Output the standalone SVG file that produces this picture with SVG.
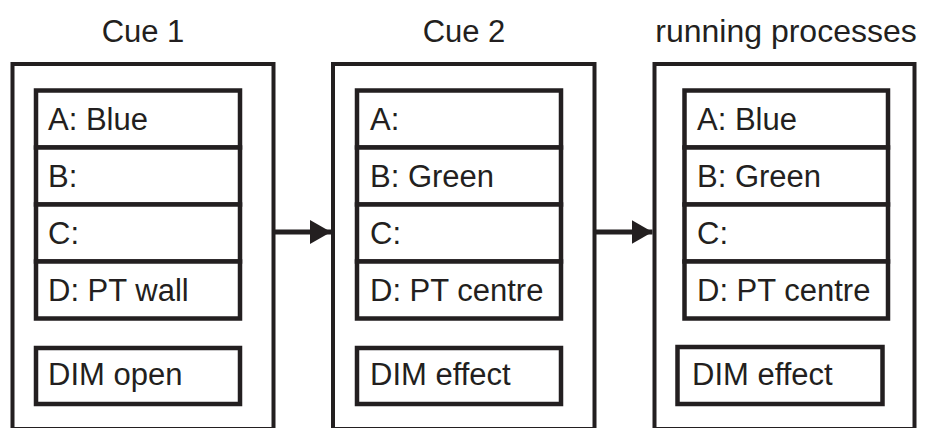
<svg xmlns="http://www.w3.org/2000/svg" width="926" height="428" viewBox="0 0 926 428">
<defs>
<style>
.outer{fill:#fff;stroke:#231f20;stroke-width:4}
.inner{fill:#fff;stroke:#231f20;stroke-width:4.5}
.t{font-family:"Liberation Sans",Arial,sans-serif;font-size:31px;fill:#231f20}
.title{text-anchor:middle}
.conn{stroke:#231f20;stroke-width:5;fill:none}
</style>
<marker id="ah" markerUnits="userSpaceOnUse" markerWidth="22" markerHeight="26" refX="21" refY="13" orient="auto">
<path d="M0,1 L21,13 L0,25 Z" fill="#231f20"/>
</marker>
</defs>
<rect width="926" height="428" fill="#fff"/>
<g id="cue1">
<text class="t title" x="143" y="42">Cue 1</text>
<rect class="outer" x="12.5" y="64" width="261" height="365"/>
<rect class="inner" x="36" y="90.5" width="204" height="57"/>
<rect class="inner" x="36" y="147.5" width="204" height="57"/>
<rect class="inner" x="36" y="204.5" width="204" height="57"/>
<rect class="inner" x="36" y="261.5" width="204" height="57"/>
<rect class="inner" x="36" y="348" width="204" height="56"/>
<text class="t" x="48" y="130">A: Blue</text>
<text class="t" x="48" y="187">B:</text>
<text class="t" x="48" y="244">C:</text>
<text class="t" x="48" y="301">D: PT wall</text>
<text class="t" x="48" y="385">DIM open</text>
</g>
<g id="cue2">
<text class="t title" x="464" y="42">Cue 2</text>
<rect class="outer" x="333" y="64" width="261.5" height="365"/>
<rect class="inner" x="357" y="90.5" width="204" height="57"/>
<rect class="inner" x="357" y="147.5" width="204" height="57"/>
<rect class="inner" x="357" y="204.5" width="204" height="57"/>
<rect class="inner" x="357" y="261.5" width="204" height="57"/>
<rect class="inner" x="357" y="348" width="204" height="56"/>
<text class="t" x="370" y="130">A:</text>
<text class="t" x="370" y="187">B: Green</text>
<text class="t" x="370" y="244">C:</text>
<text class="t" x="370" y="301">D: PT centre</text>
<text class="t" x="370" y="385">DIM effect</text>
</g>
<g id="running">
<text class="t title" x="786" y="42" style="font-size:32px">running processes</text>
<rect class="outer" x="654.5" y="64" width="260" height="365"/>
<rect class="inner" x="684.5" y="90.5" width="203.5" height="57"/>
<rect class="inner" x="684.5" y="147.5" width="203.5" height="57"/>
<rect class="inner" x="684.5" y="204.5" width="203.5" height="57"/>
<rect class="inner" x="684.5" y="261.5" width="203.5" height="57"/>
<rect class="inner" x="677.5" y="347" width="205" height="57"/>
<text class="t" x="697" y="130">A: Blue</text>
<text class="t" x="697" y="187">B: Green</text>
<text class="t" x="697" y="244">C:</text>
<text class="t" x="697" y="301">D: PT centre</text>
<text class="t" x="692" y="385">DIM effect</text>
</g>
<g id="connectors">
<line class="conn" x1="275" y1="232" x2="331" y2="232" marker-end="url(#ah)"/>
<line class="conn" x1="596" y1="232" x2="652.5" y2="232" marker-end="url(#ah)"/>
</g>
</svg>
